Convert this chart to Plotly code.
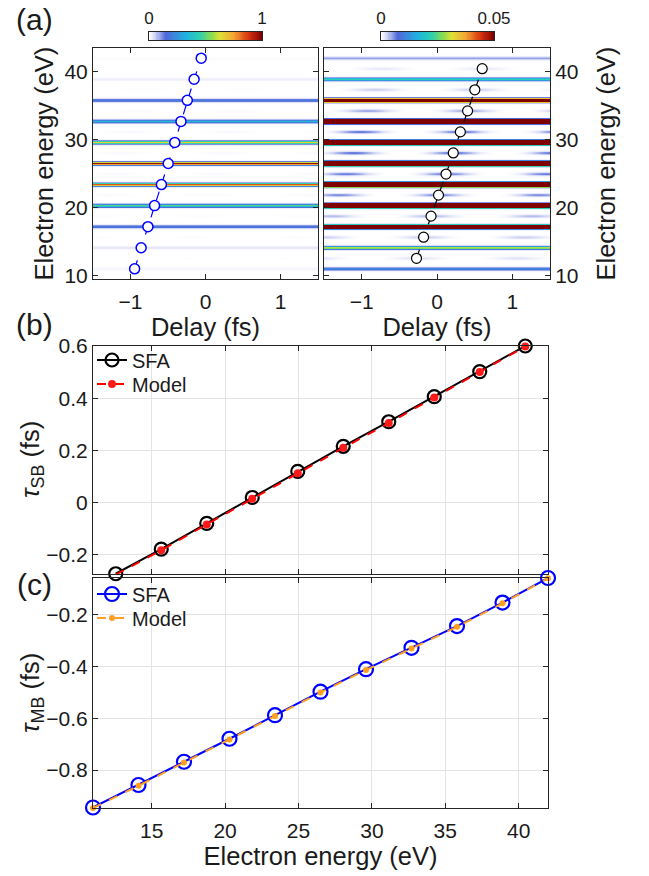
import numpy as np
import plotly.graph_objects as go

# ---------------- data ----------------
# main-band (MB) electron energies (eV) and delays (fs)
mb_energy = [11.0, 14.1, 17.2, 20.3, 23.4, 26.5, 29.6, 32.7, 35.8, 38.9, 42.0]
mb_sfa = [-0.945, -0.858, -0.768, -0.679, -0.588, -0.497, -0.410, -0.327, -0.243, -0.152, -0.057]
mb_model = [-0.947, -0.861, -0.771, -0.682, -0.591, -0.500, -0.413, -0.330, -0.246, -0.155, -0.058]
# relative MB peak intensities in the spectrogram
mb_peak = [0.012, 0.03, 0.2, 0.5, 0.85, 1.0, 0.67, 0.35, 0.2, 0.022, 0.005]

# sideband (SB) electron energies (eV) and delays (fs)
sb_energy = [12.55, 15.65, 18.75, 21.85, 24.95, 28.05, 31.15, 34.25, 37.35, 40.45]
sb_sfa = [-0.272, -0.178, -0.079, 0.020, 0.120, 0.216, 0.310, 0.406, 0.502, 0.600]
sb_model = [-0.275, -0.182, -0.083, 0.015, 0.113, 0.210, 0.305, 0.403, 0.500, 0.598]
# relative SB peak intensities in the spectrogram
sb_peak = [0.002, 0.003, 0.004, 0.006, 0.007, 0.0075, 0.007, 0.005, 0.003, 0.0015]

band_sigma = 0.16      # eV, spectral width of each band
sb_period = 1.33       # fs, sideband oscillation period

delay_grid = np.round(np.linspace(-1.5, 1.5, 61), 3)
energy_grid = np.round(np.arange(9.5, 43.54, 0.04), 3)

# spectrogram built from the band parameters above
E = energy_grid[:, None]
T = delay_grid[None, :]
Z = np.zeros((energy_grid.size, delay_grid.size))
for e0, a in zip(mb_energy, mb_peak):
    Z += a * np.exp(-((E - e0) ** 2) / (2 * band_sigma ** 2)) * np.ones_like(T)
for e0, a, t0 in zip(sb_energy, sb_peak, sb_sfa):
    osc = ((1 + np.cos(2 * np.pi * (T - t0) / sb_period)) / 2) ** 2
    Z += a * np.exp(-((E - e0) ** 2) / (2 * band_sigma ** 2)) * osc
Z = np.round(Z, 5)

cscale = [
    [0.0, "#ffffff"], [0.05, "#d4d8f4"], [0.15, "#5068da"], [0.33, "#1fb4e0"],
    [0.45, "#2fd0b0"], [0.55, "#8cdc50"], [0.63, "#dde035"], [0.75, "#f4a534"],
    [0.88, "#d8360f"], [1.0, "#7f0000"],
]

W, H = 649, 876
def px_x(a, b):
    return [a / W, b / W]
def px_y(top, bot):
    return [1 - bot / H, 1 - top / H]

FONT = "Liberation Sans, Arial, sans-serif"
AX = "#262626"
TXT = "#1a1a1a"
TICK = 21
TITLE = 25.5
LEG = 20

fig = go.Figure()

# ---- panel (a) heatmaps ----
fig.add_trace(go.Heatmap(x=delay_grid, y=energy_grid, z=Z, colorscale=cscale, zmin=0, zmax=1,
                         showscale=False, zsmooth="best", xaxis="x", yaxis="y", hoverinfo="skip"))
fig.add_trace(go.Heatmap(x=delay_grid, y=energy_grid, z=Z, colorscale=cscale, zmin=0, zmax=0.05,
                         showscale=False, zsmooth="best", xaxis="x2", yaxis="y2", hoverinfo="skip"))
fig.add_trace(go.Scatter(x=mb_sfa, y=mb_energy, mode="lines+markers", xaxis="x", yaxis="y",
                         line=dict(color="#0000ff", width=1.2, dash="dash"),
                         marker=dict(symbol="circle", size=10, color="white",
                                     line=dict(color="#0000ff", width=1.5)),
                         showlegend=False, cliponaxis=False))
fig.add_trace(go.Scatter(x=sb_sfa, y=sb_energy, mode="lines+markers", xaxis="x2", yaxis="y2",
                         line=dict(color="#000000", width=1.2, dash="dash"),
                         marker=dict(symbol="circle", size=10, color="white",
                                     line=dict(color="#000000", width=1.2)),
                         showlegend=False, cliponaxis=False))

# ---- colour bars (as small heatmaps) ----
cb_vals = np.linspace(0, 1, 101)
fig.add_trace(go.Heatmap(x=cb_vals, y=[0], z=[cb_vals], colorscale=cscale, zmin=0, zmax=1,
                         showscale=False, xaxis="x5", yaxis="y5", hoverinfo="skip"))
fig.add_trace(go.Heatmap(x=cb_vals * 0.05, y=[0], z=[cb_vals * 0.05], colorscale=cscale, zmin=0,
                         zmax=0.05, showscale=False, xaxis="x6", yaxis="y6", hoverinfo="skip"))

# ---- panel (b) ----
fig.add_trace(go.Scatter(x=sb_energy, y=sb_sfa, name="SFA", mode="lines+markers", xaxis="x3", yaxis="y3",
                         line=dict(color="#000000", width=2),
                         marker=dict(symbol="circle-open", size=13, color="#000000", line=dict(width=2.2)),
                         legend="legend", cliponaxis=False))
fig.add_trace(go.Scatter(x=sb_energy, y=sb_model, name="Model", mode="lines+markers", xaxis="x3", yaxis="y3",
                         line=dict(color="#ff0000", width=2, dash="dash"),
                         marker=dict(symbol="circle", size=8, color="#ff1a1a"),
                         legend="legend2", cliponaxis=False))

# ---- panel (c) ----
fig.add_trace(go.Scatter(x=mb_energy, y=mb_sfa, name="SFA", mode="lines+markers", xaxis="x4", yaxis="y4",
                         line=dict(color="#0000ff", width=2),
                         marker=dict(symbol="circle-open", size=14, color="#0000ff", line=dict(width=2.2)),
                         legend="legend3", cliponaxis=False))
fig.add_trace(go.Scatter(x=mb_energy, y=mb_model, name="Model", mode="lines+markers", xaxis="x4", yaxis="y4",
                         line=dict(color="#ff9e1f", width=2, dash="dash"),
                         marker=dict(symbol="circle", size=6, color="#ff9e1f"),
                         legend="legend4", cliponaxis=False))

base = dict(showline=True, linecolor=AX, linewidth=1, mirror="ticks", ticks="inside", ticklen=5,
            tickcolor=AX, zeroline=False, automargin=False, tickfont=dict(size=TICK, family=FONT, color=TXT))

A_L = px_x(93, 318); A_R = px_x(324, 550); A_Y = px_y(48, 279)
B_X = px_x(93, 548); B_Y = px_y(346, 574); C_Y = px_y(578, 808)

def leg(ycen):
    return dict(x=92 / W, y=1 - ycen / H, xanchor="left", yanchor="middle", bgcolor="rgba(0,0,0,0)",
                font=dict(size=LEG, family=FONT, color=TXT), itemwidth=30, tracegroupgap=0,
                borderwidth=0)

fig.update_layout(
    width=W, height=H, margin=dict(l=0, r=0, t=0, b=0),
    paper_bgcolor="white", plot_bgcolor="white",
    font=dict(family=FONT, size=TICK, color=TXT),
    xaxis=dict(base, domain=A_L, range=[-1.5, 1.5], tickvals=[-1, 0, 1], showgrid=False, anchor="y",
               ticklabelstandoff=4, title=dict(text="Delay (fs)", font=dict(size=TITLE), standoff=4)),
    yaxis=dict(base, domain=A_Y, range=[9.5, 43.5], tickvals=[10, 20, 30, 40], showgrid=False, anchor="x"),
    xaxis2=dict(base, domain=A_R, range=[-1.5, 1.5], tickvals=[-1, 0, 1], showgrid=False, anchor="y2",
                ticklabelstandoff=4, title=dict(text="Delay (fs)", font=dict(size=TITLE), standoff=4)),
    yaxis2=dict(base, domain=A_Y, range=[9.5, 43.5], tickvals=[10, 20, 30, 40], showgrid=False, anchor="x2",
                side="right"),
    xaxis3=dict(base, domain=B_X, range=[11, 42], tickvals=[15, 20, 25, 30, 35, 40], showticklabels=False,
                showgrid=True, gridcolor="#e3e3e3", anchor="y3"),
    yaxis3=dict(base, domain=B_Y, range=[-0.273, 0.6], tickvals=[-0.2, 0, 0.2, 0.4, 0.6],
                showgrid=True, gridcolor="#e3e3e3", anchor="x3"),
    xaxis4=dict(base, domain=B_X, range=[11, 42], tickvals=[15, 20, 25, 30, 35, 40],
                showgrid=True, gridcolor="#e3e3e3", anchor="y4", ticklabelstandoff=4,
                title=dict(text="Electron energy (eV)", font=dict(size=TITLE), standoff=4)),
    yaxis4=dict(base, domain=C_Y, range=[-0.947, -0.057], tickvals=[-0.8, -0.6, -0.4, -0.2],
                showgrid=True, gridcolor="#e3e3e3", anchor="x4"),
    xaxis5=dict(domain=px_x(149, 262), range=[0, 1], side="top", tickvals=[0, 1],
                ticks="", showline=True, mirror=True, linecolor=AX,
                showgrid=False, zeroline=False, anchor="y5", automargin=False,
                tickfont=dict(size=17, family=FONT, color=TXT)),
    yaxis5=dict(domain=px_y(32, 40), range=[-0.5, 0.5], showticklabels=False, ticks="", showgrid=False,
                zeroline=False, showline=True, mirror=True, linecolor=AX, anchor="x5", automargin=False),
    xaxis6=dict(domain=px_x(381, 494), range=[0, 0.05], side="top", tickvals=[0, 0.05],
                ticks="", showline=True, mirror=True,
                linecolor=AX, showgrid=False, zeroline=False, anchor="y6", automargin=False,
                tickfont=dict(size=17, family=FONT, color=TXT)),
    yaxis6=dict(domain=px_y(32, 40), range=[-0.5, 0.5], showticklabels=False, ticks="", showgrid=False,
                zeroline=False, showline=True, mirror=True, linecolor=AX, anchor="x6", automargin=False),
    legend=leg(360), legend2=leg(384), legend3=leg(594), legend4=leg(618),
)

# rotated y-axis titles, placed at the reference positions
ytitles = [
    ("Electron energy (eV)", 43, (48 + 279) / 2),
    ("Electron energy (eV)", 605, (48 + 279) / 2),
    ("<i>τ</i><sub>SB</sub> (fs)", 32, (346 + 574) / 2),
    ("<i>τ</i><sub>MB</sub> (fs)", 32, (578 + 808) / 2),
]
for txt, xx, yy in ytitles:
    fig.add_annotation(text=txt, x=xx / W, y=1 - yy / H, xref="paper", yref="paper", showarrow=False,
                       textangle=-90, font=dict(size=TITLE, family=FONT, color=TXT),
                       xanchor="center", yanchor="middle")

for txt, yy in [("(a)", 20), ("(b)", 325), ("(c)", 584)]:
    fig.add_annotation(text=txt, x=34 / W, y=1 - yy / H, xref="paper", yref="paper", showarrow=False,
                       font=dict(size=30, family=FONT, color=TXT), xanchor="center", yanchor="middle")

fig.write_html("out.html")
